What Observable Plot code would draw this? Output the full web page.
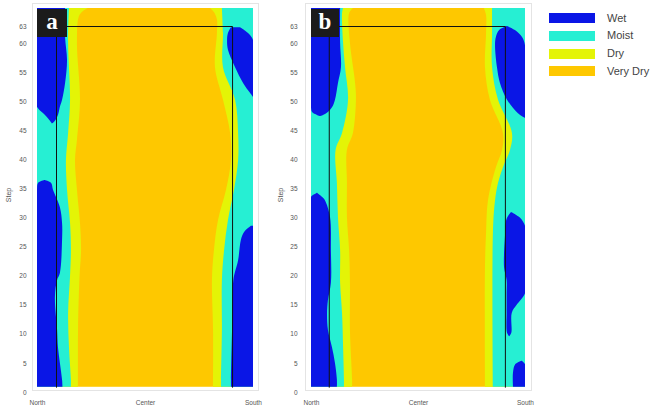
<!DOCTYPE html>
<html><head><meta charset="utf-8">
<script src="https://cdn.jsdelivr.net/npm/d3@7"></script>
<script src="https://cdn.jsdelivr.net/npm/@observablehq/plot@0.6"></script>
<style>
body{margin:0;background:#fff;}
#root{position:relative;width:652px;height:412px;overflow:hidden;font-family:"Liberation Sans",Arial,sans-serif;}
.panel{position:absolute;top:0;width:270px;height:412px;}
.tag{position:absolute;top:9px;height:28px;background:#1b1b1b;color:#fff;font:bold 23px "Liberation Serif","DejaVu Serif",serif;display:flex;align-items:center;justify-content:center;line-height:1;padding-bottom:3px;box-sizing:border-box;}
.ylab{position:absolute;font-size:7px;color:#555;transform:translate(-50%,-50%) rotate(-90deg);white-space:nowrap;}
.leg{position:absolute;left:549px;}
.sw{position:absolute;left:0;width:46px;height:10px;}
.lt{position:absolute;left:58px;font-size:11px;color:#444;white-space:nowrap;line-height:11px;}
</style></head>
<body><div id="root"></div>
<script>
// ---- categories & colours ----
const categories = ["Wet", "Moist", "Dry", "Very Dry"];
const colors = ["#0a16e6", "#26efd3", "#e4f406", "#fec800"];

// ---- axes ----
const yTicks = [0, 5, 10, 15, 20, 25, 30, 35, 40, 45, 50, 55, 60, 63];
const xTickValues = [0, 50, 100];
const xTickLabels = ["North", "Center", "South"];
const stepRange = [0.9, 66.1];   // extent of the coloured field (Step)
const xEdges = [0, 100];         // North edge, South edge
const corridorTop = 63;

// ---- panel a : [step, boundary] ----
const aNorthDry = [[66.1, 23.6], [65.6, 21.3], [64.7, 19.4], [60.1, 18.5], [50.3, 19.9], [43.4, 18.5], [39.9, 17.6], [34.8, 18.5], [29.1, 19.9], [24.4, 20.4], [20.0, 19.7], [10.7, 19.0], [0.9, 19.0]];
const aNorthMoist = [[66.1, 14.8], [60.1, 14.4], [50.3, 15.3], [44.6, 14.4], [39.9, 13.4], [34.8, 13.9], [29.1, 15.3], [24.4, 15.7], [20.0, 15.3], [13.6, 14.4], [7.7, 14.8], [2.1, 15.7], [0.9, 15.7]];
const aSouthDry = [[66.1, 80.1], [65.4, 81.9], [64.1, 83.3], [61.8, 83.3], [55.9, 82.4], [50.3, 86.1], [44.6, 89.4], [39.9, 89.8], [34.8, 87.5], [29.6, 83.8], [24.4, 81.9], [19.3, 81.0], [10.7, 81.5], [0.9, 81.5]];
const aSouthMoist = [[66.1, 85.6], [61.8, 86.1], [55.9, 86.1], [50.3, 91.7], [44.6, 93.1], [39.9, 93.1], [34.8, 91.2], [29.6, 88.4], [24.4, 86.6], [19.3, 85.6], [10.7, 85.6], [2.1, 85.2], [0.9, 85.2]];
// wet blobs : [step, x1, x2]
const aNorthWet1 = [[66.1, 0, 13.0], [61.1, 0, 13.0], [57.1, 0, 13.9], [53.2, 0, 13.0], [50.3, 0, 11.6], [49.1, 0, 10.6], [47.7, 3.7, 9.7], [46.7, 6.0, 8.3], [46.2, 6.9, 6.9]];
const aNorthWet2 = [[36.5, 3.5, 3.5], [36.0, 0.5, 6.5], [34.8, 0, 7.4], [31.8, 0, 10.6], [29.1, 0, 11.6], [26.2, 0, 11.6], [20.5, 0, 10.6], [19.3, 0, 9.3], [16.4, 0, 8.3], [10.7, 0, 9.3], [7.7, 0, 9.7], [5.0, 0, 10.6], [2.1, 0, 11.6], [0.9, 0, 11.8]];
const aSouthWet1 = [[62.8, 89.8, 94.0], [61.8, 88.4, 97.7], [60.6, 88.0, 100], [58.9, 88.4, 100], [55.9, 91.7, 100], [53.2, 95.4, 100], [51.5, 98.6, 100], [50.8, 100, 100]];
const aSouthWet2 = [[28.6, 99, 100], [27.5, 95.8, 100], [26.2, 94.4, 100], [22.7, 93.1, 100], [19.3, 90.9, 100], [10.7, 90.3, 100], [2.1, 89.8, 100], [0.9, 89.8, 100]];
const aCorridor = [8.8, 90.3];

// ---- panel b ----
const bNorthDry = [[66.1, 19.6], [65.2, 17.8], [60.1, 18.2], [53.2, 20.6], [50.3, 21.0], [44.6, 19.6], [41.7, 16.8], [36.0, 16.8], [30.1, 16.8], [24.4, 17.8], [18.8, 18.2], [10.7, 18.2], [2.1, 19.2], [0.9, 19.2]];
const bNorthMoist = [[66.1, 15.0], [65.2, 14.5], [60.1, 15.0], [55.9, 15.9], [50.3, 17.3], [44.6, 14.5], [41.7, 11.5], [36.0, 12.1], [30.1, 12.6], [24.4, 13.6], [18.8, 13.6], [13.6, 14.5], [7.7, 15.0], [2.1, 15.4], [0.9, 15.4]];
const bSouthDry = [[66.1, 80.8], [64.9, 81.8], [61.8, 81.8], [55.9, 81.3], [50.3, 83.6], [44.6, 89.7], [41.7, 89.3], [38.7, 86.4], [33.0, 82.7], [27.4, 81.8], [21.5, 81.3], [0.9, 81.3]];
const bSouthMoist = [[66.1, 84.6], [61.8, 84.6], [55.9, 84.6], [50.3, 87.4], [44.6, 93.9], [41.7, 93.0], [38.7, 89.7], [36.0, 87.4], [33.0, 86.0], [27.4, 85.0], [0.9, 85.0]];
const bNorthWet1 = [[66.1, 0, 13.6], [60.1, 0, 13.6], [55.9, 0, 14.0], [53.2, 0, 12.6], [50.3, 0, 11.2], [49.0, 0, 9.8], [48.2, 0.5, 7.9], [47.7, 2.8, 5.6], [47.5, 4.2, 4.2]];
const bNorthWet2 = [[34.3, 2.8, 2.8], [33.6, 0, 5.1], [33.0, 0, 6.5], [30.1, 0, 8.9], [24.4, 0, 9.3], [18.8, 0, 9.3], [15.8, 0, 7.9], [13.6, 0, 7.5], [10.7, 0, 7.9], [7.7, 0, 9.8], [5.0, 0, 11.2], [2.1, 0, 12.1], [0.9, 0, 12.1]];
const bSouthWet1 = [[63.0, 91.6, 91.6], [62.3, 87.9, 95.3], [61.1, 86.4, 98.6], [59.7, 86.0, 100], [55.9, 86.9, 100], [53.2, 88.3, 100], [50.3, 91.6, 100], [48.0, 96.7, 100], [47.2, 100, 100]];
const bSouthWet2 = [[31.0, 93.5, 93.5], [30.0, 91.6, 97.7], [28.6, 90.7, 100], [27.4, 90.7, 100], [21.5, 90.2, 100], [19.3, 91.4, 100], [17.0, 91.4, 100], [15.0, 91.4, 96.1], [13.6, 91.4, 93.8], [10.2, 91.6, 93.6], [9.6, 92.6, 92.6]];
const bSouthWet3 = [[5.4, 98.5, 98.5], [4.8, 95.5, 100], [3.4, 94.4, 100], [0.9, 94.4, 100]];
const bCorridor = [8.3, 90.6];

const [WET, MOIST, DRY, VDRY] = colors;
const curve = "catmull-rom";

function blobs(list) {
  return list.flatMap((b, k) => b.map(([s, x1, x2]) => ({s, x1, x2, k})));
}

function panel(p) {
  const [north, south] = xEdges;
  const field = [{x1: north, x2: south, y1: stepRange[0], y2: stepRange[1]}];
  const corridor = [
    {x: p.corridor[0], y: stepRange[0]}, {x: p.corridor[0], y: corridorTop},
    {x: p.corridor[1], y: corridorTop}, {x: p.corridor[1], y: stepRange[0]}
  ];
  const nSide = (data, fill) => Plot.areaX(data, {y: d => d[0], x1: () => north, x2: d => d[1], fill, curve, clip: true});
  const sSide = (data, fill) => Plot.areaX(data, {y: d => d[0], x1: d => d[1], x2: () => south, fill, curve, clip: true});
  const wet = (data) => Plot.areaX(blobs(data), {y: "s", x1: "x1", x2: "x2", z: "k", fill: WET, curve, clip: true});
  return Plot.plot({
    width: 270, height: 412,
    marginLeft: p.ml, marginRight: p.mr, marginTop: 8, marginBottom: 20,
    style: {fontFamily: "Liberation Sans, Arial, sans-serif", fontSize: "6.5px", color: "#555", background: "transparent", overflow: "visible"},
    x: {domain: xEdges, ticks: xTickValues, tickFormat: d => xTickLabels[xTickValues.indexOf(d)], tickSize: 0, tickPadding: 8, label: null},
    y: {domain: [0, stepRange[1]], ticks: yTicks, tickSize: 0, tickPadding: p.tp, label: null},
    marks: [
      Plot.frame({stroke: "#e4e4e4", insetLeft: p.fl, insetRight: p.fr, insetTop: -5, insetBottom: 2}),
      Plot.rect(field, {x1: "x1", x2: "x2", y1: "y1", y2: "y2", fill: VDRY}),
      nSide(p.nDry, DRY), sSide(p.sDry, DRY),
      nSide(p.nMoist, MOIST), sSide(p.sMoist, MOIST),
      wet(p.nWet), wet(p.sWet),
      Plot.line(corridor, {x: "x", y: "y", stroke: "#111", strokeWidth: 1})
    ]
  });
}

const root = document.getElementById("root");
const specs = [
  {left: 0, ml: 37, mr: 17, tp: 11, fl: -5, fr: -5, nDry: aNorthDry, nMoist: aNorthMoist, sDry: aSouthDry, sMoist: aSouthMoist,
   nWet: [aNorthWet1, aNorthWet2], sWet: [aSouthWet1, aSouthWet2], corridor: aCorridor, tag: "a", tagX: 37, tagW: 30, labX: 8},
  {left: 270, ml: 41, mr: 15, tp: 14, fl: -6, fr: -6, nDry: bNorthDry, nMoist: bNorthMoist, sDry: bSouthDry, sMoist: bSouthMoist,
   nWet: [bNorthWet1, bNorthWet2], sWet: [bSouthWet1, bSouthWet2, bSouthWet3], corridor: bCorridor, tag: "b", tagX: 311, tagW: 28, labX: 280}
];
for (const p of specs) {
  const div = document.createElement("div");
  div.className = "panel";
  div.style.left = p.left + "px";
  div.appendChild(panel(p));
  root.appendChild(div);
  const tag = document.createElement("div");
  tag.className = "tag";
  tag.style.left = p.tagX + "px";
  tag.style.width = p.tagW + "px";
  tag.textContent = p.tag;
  root.appendChild(tag);
  const lab = document.createElement("div");
  lab.className = "ylab";
  lab.style.left = p.labX + "px";
  lab.style.top = "195px";
  lab.textContent = "Step";
  root.appendChild(lab);
}

// legend
const leg = document.createElement("div");
leg.className = "leg";
leg.style.top = "0px";
categories.forEach((c, i) => {
  const top = 13 + i * 17.8;
  const sw = document.createElement("div");
  sw.className = "sw"; sw.style.top = top + "px"; sw.style.background = colors[i];
  const t = document.createElement("div");
  t.className = "lt"; t.style.top = (top - 0.5) + "px"; t.textContent = c;
  leg.appendChild(sw); leg.appendChild(t);
});
root.appendChild(leg);
</script>
</body></html>
